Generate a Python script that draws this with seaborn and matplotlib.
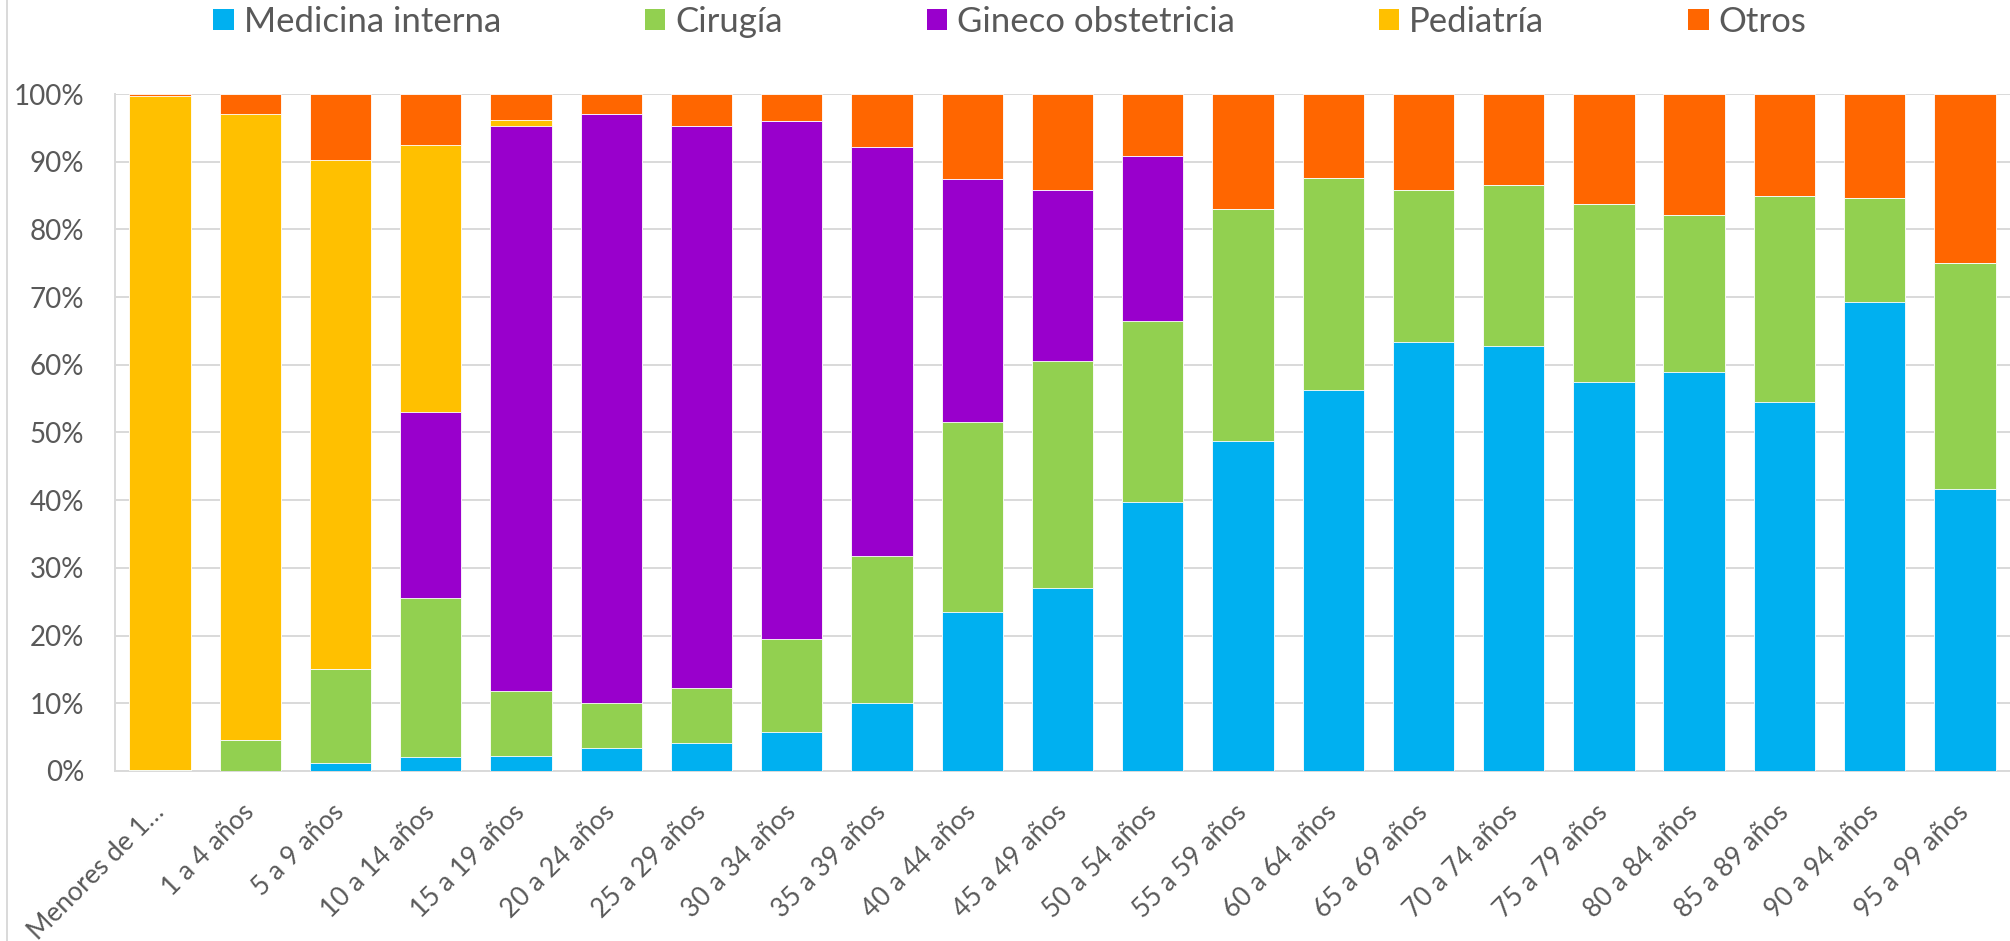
import numpy as np
import pandas as pd
import seaborn as sns
import matplotlib.pyplot as plt
from matplotlib.patches import Patch
from matplotlib.lines import Line2D
from matplotlib.ticker import PercentFormatter, MultipleLocator

# age groups (x axis)
grupos = ["Menores de 1…", "1 a 4 años", "5 a 9 años", "10 a 14 años", "15 a 19 años",
          "20 a 24 años", "25 a 29 años", "30 a 34 años", "35 a 39 años", "40 a 44 años",
          "45 a 49 años", "50 a 54 años", "55 a 59 años", "60 a 64 años", "65 a 69 años",
          "70 a 74 años", "75 a 79 años", "80 a 84 años", "85 a 89 años", "90 a 94 años",
          "95 a 99 años"]

# share of each service per age group (%)
medicina = [0.0, 0.0, 1.2, 2.0, 2.2, 3.4, 4.1, 5.8, 10.0, 23.5, 27.0,
            39.8, 48.7, 56.3, 63.4, 62.8, 57.5, 59.0, 54.5, 69.3, 41.7]
cirugia = [0.2, 4.5, 13.8, 23.6, 9.6, 6.6, 8.2, 13.7, 21.7, 28.1, 33.6,
           26.6, 34.3, 31.3, 22.4, 23.7, 26.3, 23.2, 30.5, 15.3, 33.3]
gineco = [0.0, 0.0, 0.0, 27.4, 83.5, 87.0, 83.0, 76.5, 60.5, 35.9, 25.2,
          24.4, 0.0, 0.0, 0.0, 0.0, 0.0, 0.0, 0.0, 0.0, 0.0]
pediatria = [99.5, 92.5, 75.3, 39.5, 0.9, 0.0, 0.0, 0.0, 0.0, 0.0, 0.0,
             0.0, 0.0, 0.0, 0.0, 0.0, 0.0, 0.0, 0.0, 0.0, 0.0]
otros = [0.3, 3.0, 9.7, 7.5, 3.8, 3.0, 4.7, 4.0, 7.8, 12.5, 14.2,
         9.2, 17.0, 12.4, 14.2, 13.5, 16.2, 17.8, 15.0, 15.4, 25.0]

servicios = ["Medicina interna", "Cirugía", "Gineco obstetricia", "Pediatría", "Otros"]
colores = ["#00B0F0", "#92D050", "#9900CC", "#FFC000", "#FF6600"]

df = pd.DataFrame({"grupo": grupos, "Medicina interna": medicina, "Cirugía": cirugia,
                   "Gineco obstetricia": gineco, "Pediatría": pediatria, "Otros": otros})
acum = df[servicios].cumsum(axis=1)

sns.set_style("white")
plt.rcParams['font.family'] = ['Lato', 'DejaVu Sans']
gris = "#595959"
linea = "#d9d9d9"

fig = plt.figure(figsize=(20.1, 9.41), dpi=100)
ax = fig.add_axes([0.0572, 0.1807, 0.9428, 0.7194])

# stacked bars: draw cumulative totals from the top layer down
for serv, col in zip(servicios[::-1], colores[::-1]):
    sns.barplot(x=df["grupo"], y=acum[serv], color=col, saturation=1, width=0.68,
                edgecolor="white", linewidth=0.6, ax=ax, zorder=3)

ax.set_xlim(-0.5, 20.42)
ax.set_ylim(0, 100)
ax.yaxis.set_major_locator(MultipleLocator(10))
ax.yaxis.set_major_formatter(PercentFormatter(xmax=100, decimals=0))
ax.grid(axis="y", color=linea, lw=1.4, zorder=0)
ax.set_axisbelow(True)
ax.set_xlabel("")
ax.set_ylabel("")

ax.set_xticks(range(len(grupos)))
ax.set_xticklabels(grupos, rotation=45, ha="right", va="center", rotation_mode="anchor")
ax.set_xticks(np.arange(-0.5, len(grupos), 1), minor=True)
ax.tick_params(axis="x", which="major", length=0, pad=27, labelsize=19, labelcolor=gris)
ax.tick_params(axis="x", which="minor", length=14, direction="inout", color=linea, width=1.4)
ax.tick_params(axis="y", length=7, color=linea, width=1.4, pad=15, labelsize=20, labelcolor=gris)

for s in ["top", "right"]:
    ax.spines[s].set_visible(False)
for s in ["left", "bottom"]:
    ax.spines[s].set_color(linea)
    ax.spines[s].set_linewidth(1.4)

handles = [Patch(facecolor=c, edgecolor="none") for c in colores]
fig.legend(handles, servicios, loc="center", bbox_to_anchor=(0.5025, 0.977), ncol=5,
           frameon=False, fontsize=25, handlelength=0.58, handleheight=0.58,
           handletextpad=0.29, columnspacing=4.15, labelcolor=gris)

# chart area border on the left
fig.add_artist(Line2D([0.0035, 0.0035], [0, 1], transform=fig.transFigure, color=linea, lw=1.4))

fig.savefig("out.png", dpi=100)
